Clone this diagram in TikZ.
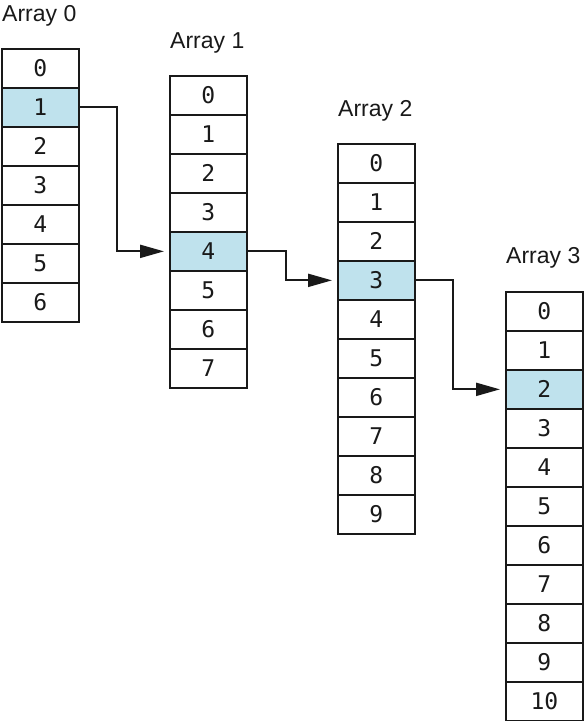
\documentclass[tikz,border=0pt]{standalone}
\usepackage{fontspec}
\setmainfont{Liberation Sans}
\newfontfamily\monof{DejaVu Sans Mono}
\usetikzlibrary{arrows.meta}
\definecolor{hl}{RGB}{191,226,237}
\definecolor{ink}{RGB}{25,25,25}
\tikzset{
  cell/.style={draw=ink, line width=1.7pt, rectangle, minimum width=77pt, minimum height=39pt,
    anchor=north west, inner sep=0pt, font=\monof\fontsize{23}{26}\selectfont, text=ink},
  hlcell/.style={cell, fill=hl},
  title/.style={anchor=base west, inner sep=0pt, font=\fontsize{23}{27}\selectfont, text=ink},
  arr/.style={draw=ink, line width=2pt, -{Triangle[length=24pt,width=13pt]}, shorten >=5pt}
}
\begin{document}
\begin{tikzpicture}[x=1pt,y=-1pt]
\useasboundingbox (0,0) rectangle (584,721);
% Array 0
\node[title] (t0) at (2,21) {Array 0};
\foreach \i in {0,...,6} {
  \ifnum\i=1 \node[hlcell] (a0-\i) at (1,48+39*\i) {\i};
  \else \node[cell] (a0-\i) at (1,48+39*\i) {\i}; \fi
}
% Array 1
\node[title] (t1) at (170,48) {Array 1};
\foreach \i in {0,...,7} {
  \ifnum\i=4 \node[hlcell] (a1-\i) at (169,75+39*\i) {\i};
  \else \node[cell] (a1-\i) at (169,75+39*\i) {\i}; \fi
}
% Array 2
\node[title] (t2) at (338,116) {Array 2};
\foreach \i in {0,...,9} {
  \ifnum\i=3 \node[hlcell] (a2-\i) at (337,143+39*\i) {\i};
  \else \node[cell] (a2-\i) at (337,143+39*\i) {\i}; \fi
}
% Array 3
\node[title] (t3) at (506,263) {Array 3};
\foreach \i in {0,...,10} {
  \ifnum\i=2 \node[hlcell] (a3-\i) at (505,291+39*\i) {\i};
  \else \node[cell] (a3-\i) at (505,291+39*\i) {\i}; \fi
}
% connectors
\draw[arr] (a0-1.east) -- ++(37,0) |- (a1-4.west);
\draw[arr] (a1-4.east) -- ++(38,0) |- (a2-3.west);
\draw[arr] (a2-3.east) -- ++(37,0) |- (a3-2.west);
\end{tikzpicture}
\end{document}
